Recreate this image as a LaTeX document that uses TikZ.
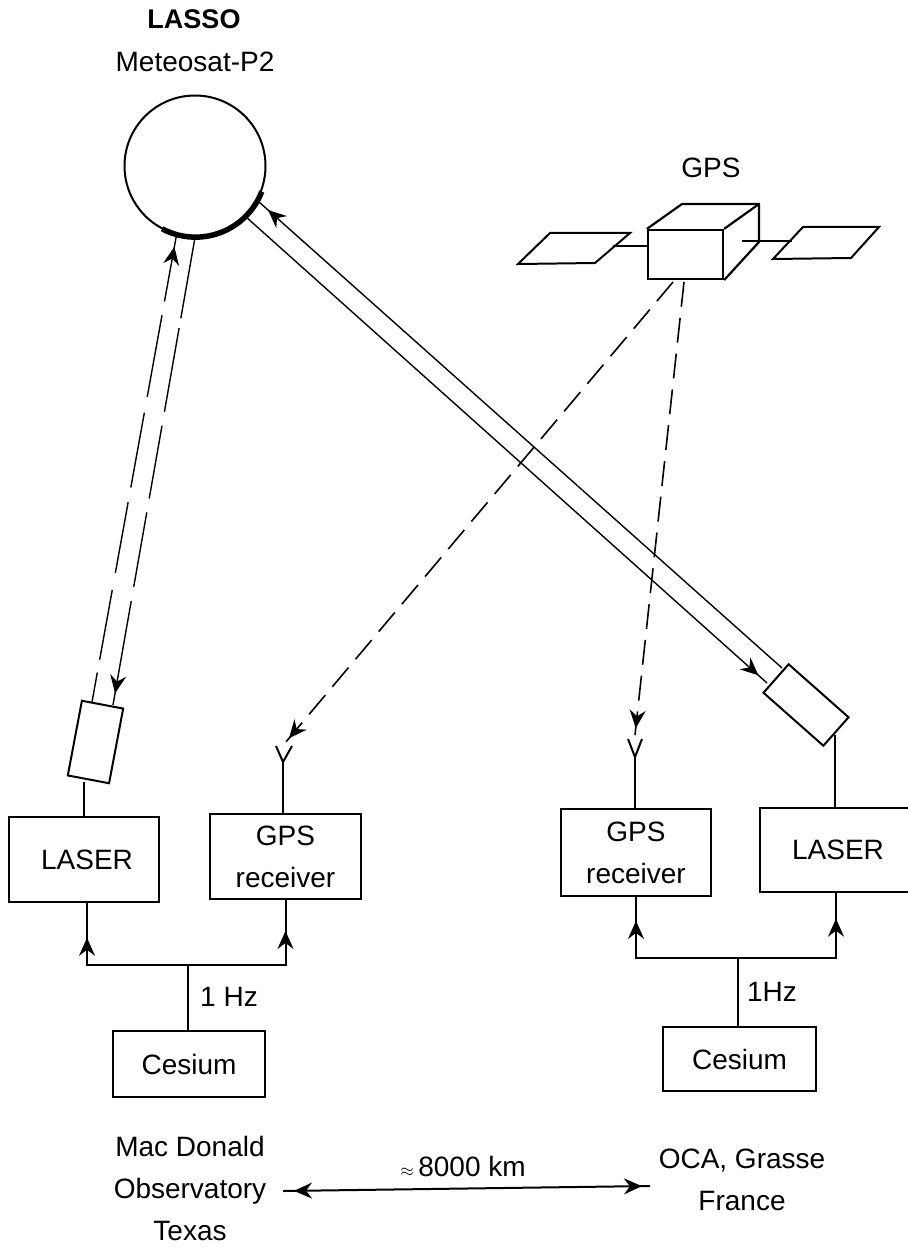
\documentclass[tikz,border=0pt]{standalone}
\usepackage{fontspec}
\setmainfont{Liberation Sans}
\usepackage{tikz}
\usetikzlibrary{arrows.meta,decorations.markings}

\tikzset{
  label/.style={font=\fontsize{28}{42}\selectfont, align=center, inner sep=0pt},
  box/.style={draw, line width=2.2pt, inner sep=0pt, font=\fontsize{28}{42}\selectfont, align=center},
  link/.style={line width=2pt},
  beam/.style={line width=1.4pt},
  gpsray/.style={line width=1.6pt, dash pattern=on 25pt off 11pt},
  tipat/.style={postaction={decorate, decoration={markings,
    mark=at position #1 with {\arrow{Stealth[length=18pt,width=16pt,inset=6pt]}}}}},
  tipback/.style={postaction={decorate, decoration={markings,
    mark=at position #1 with {\arrowreversed{Stealth[length=18pt,width=16pt,inset=6pt]}}}}}
}

\begin{document}
\begin{tikzpicture}[x=1pt, y=-1pt]
        \useasboundingbox (0,0) rectangle (907,1257);

        %Meteosat
        \node [label, font=\fontsize{27}{42}\selectfont\bfseries] (lasso) at (194,19) {LASSO};
        \node [label] (meteosat) at (195,62) {Meteosat-P2};
        \node [draw, circle, line width=2pt, minimum size=141pt, inner sep=0pt] (sat) at (195,166) {};
        \draw [line width=5.5pt] (sat.-21) arc [start angle=21, end angle=118, radius=71];

        %GPS satellite
        \node [label] (gpstitle) at (711,168) {GPS};
        \node [draw, line width=2.2pt, minimum width=75pt, minimum height=49pt, inner sep=0pt] (gpsbody) at (685.5,254.5) {};
        \coordinate (gpstop) at (682,204);
        \coordinate (gpscorner) at (759,204);
        \coordinate (gpsback) at (759,242);
        \draw [link, line width=2.2pt] (gpsbody.north west) -- (gpstop) -- (gpscorner) -- (gpsback) -- (gpsbody.south east);
        \draw [link, line width=2.2pt] (gpsbody.north east) -- (gpscorner);
        \draw [link] (550,233) -- (630,233) -- (595,263) -- (518,264) -- cycle;
        \draw [link] (803,227) -- (879,227) -- (851,258) -- (773,259) -- cycle;
        \draw [link] (613,246) -- (gpsbody.west |- 613,246);
        \draw [link] (742,241) -- (792,241);

        %Mac Donald
        \node [draw, line width=2pt, minimum width=42pt, minimum height=76pt, inner sep=0pt, rotate=-10.7] (scopeL) at (95.5,742) {};
        \node [box, minimum width=150pt, minimum height=85pt] (laserL) at (84,859.5) {\hspace*{6pt}LASER};
        \node [box, minimum width=151pt, minimum height=85pt] (gpsrxL) at (285.5,856.5) {GPS\\receiver};
        \node [box, minimum width=152pt, minimum height=66pt] (cesiumL) at (189,1064) {Cesium};
        \node [label] (hzL) at (229,997) {1 Hz};
        \coordinate (busL) at (188,965);
        \coordinate (scopeLfoot) at (84,782);
        \coordinate (scopeLa) at (92,702);
        \coordinate (scopeLb) at (113,705);
        \coordinate (antL) at (283,762);
        \draw [link] (scopeLfoot) -- (scopeLfoot |- laserL.north);
        \draw [link] (cesiumL.north -| busL) -- (busL);
        \draw [link, tipat=0.787] (busL) -| ([xshift=3pt]laserL.south);
        \draw [link, tipat=0.81] (busL) -| (gpsrxL.south);
        \draw [link] (gpsrxL.north -| antL) -- (antL);
        \draw [link] (276,746) -- (antL) -- (292,746);

        %OCA
        \node [draw, line width=2pt, minimum width=80pt, minimum height=38pt, inner sep=0pt, rotate=-41.5] (scopeR) at (806,705) {};
        \node [box, minimum width=156pt, minimum height=84pt] (laserR) at (838,850) {LASER};
        \node [box, minimum width=150pt, minimum height=87pt] (gpsrxR) at (636,852.5) {GPS\\receiver};
        \node [box, minimum width=153pt, minimum height=64pt] (cesiumR) at (739.5,1059) {Cesium};
        \node [label] (hzR) at (772,992) {1Hz};
        \coordinate (busR) at (738,958);
        \coordinate (scopeRfoot) at (835,735);
        \coordinate (scopeRa) at (782,668);
        \coordinate (scopeRb) at (767,683);
        \coordinate (antR) at (635,757);
        \draw [link] (scopeRfoot) -- (scopeRfoot |- laserR.north);
        \draw [link] (cesiumR.north -| busR) -- (busR);
        \draw [link, tipat=0.854] (busR) -| (gpsrxR.south);
        \draw [link, tipat=0.843] (busR) -| ([xshift=-2pt]laserR.south);
        \draw [link] (gpsrxR.north -| antR) -- (antR);
        \draw [link] (628,739) -- (antR) -- (642,739);

        %Laser beams
        \draw [beam, dash pattern=on 30pt off 13pt on 71pt off 17pt on 72pt off 15pt on 76pt off 16pt on 83pt off 14pt on 79pt off 90pt, tipat=0.975] (scopeLa) -- (sat.-105);
        \draw [beam, dash pattern=on 82pt off 10pt on 85pt off 14pt on 74pt off 14pt on 76pt off 14pt on 120pt off 50pt, tipat=0.975] (sat.-90) -- (scopeLb);
        \draw [beam, tipat=0.98] (scopeRa) -- (sat.-29);
        \draw [beam, tipat=0.984] (sat.-45) -- (scopeRb);

        %GPS rays
        \draw [gpsray, tipat=0.99] (673,282) -- (285,743);
        \draw [gpsray, tipat=0.985] (684,282) -- (635,735);

        %Sites
        \node [label] (siteL) at (190,1188) {Mac Donald\\Observatory\\Texas};
        \node [label] (siteR) at (742,1180) {OCA, Grasse\\France};
        \node [label] (dist) at (463,1166) {{\fontsize{18}{18}\selectfont$\approx$}\,8000 km};
        \coordinate (distL) at (283,1191);
        \coordinate (distR) at (650,1186);
        \draw [link, tipback=0.03, tipat=0.978] (distL) -- (distR);
\end{tikzpicture}
\end{document}
